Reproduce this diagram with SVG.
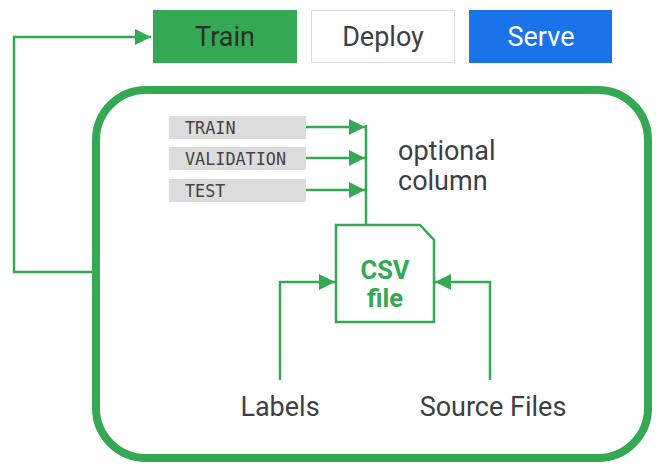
<svg xmlns="http://www.w3.org/2000/svg" width="664" height="472" viewBox="0 0 664 472">
<defs>
<style>
.lbl{font-family:"Roboto","Liberation Sans",sans-serif;font-size:27px;fill:#3c4043}
.mono{font-family:"DejaVu Sans Mono","Liberation Mono",monospace;font-size:16.8px;fill:#444}
.tag{fill:#dcdcdc}
.ln{fill:none;stroke:#34a853;stroke-width:2.5}
.csvt{font-family:"Roboto","Liberation Sans",sans-serif;font-size:25.5px;font-weight:bold;fill:#34a853}
</style>
<marker id="ah" viewBox="0 0 10 10" refX="10" refY="5" markerWidth="6.5" markerHeight="6.5" markerUnits="strokeWidth" orient="auto">
<path d="M0,0 L10,5 L0,10 z" fill="#34a853"/>
</marker>
</defs>
<rect width="664" height="472" fill="#fff"/>
<g id="train">
<rect x="153" y="10" width="144" height="53" fill="#34a853"/>
<text class="lbl" x="225" y="46" text-anchor="middle" style="fill:#2d2d2d">Train</text>
</g>
<g id="deploy">
<rect x="311.5" y="10.5" width="143" height="52" fill="#fff" stroke="#ddd"/>
<text class="lbl" x="383" y="46" text-anchor="middle">Deploy</text>
</g>
<g id="serve">
<rect x="469" y="10" width="143" height="53" fill="#1a73e8"/>
<text class="lbl" x="541" y="46" text-anchor="middle" style="fill:#fff">Serve</text>
</g>
<g id="container">
<rect x="96" y="90" width="552" height="368" rx="50" fill="none" stroke="#34a853" stroke-width="8"/>
</g>
<g id="tag-train">
<rect class="tag" x="169" y="116" width="137" height="23"/>
<text class="mono" x="185" y="133.5">TRAIN</text>
</g>
<g id="tag-validation">
<rect class="tag" x="169" y="147" width="137" height="23"/>
<text class="mono" x="185" y="164.5">VALIDATION</text>
</g>
<g id="tag-test">
<rect class="tag" x="169" y="179" width="137" height="23"/>
<text class="mono" x="185" y="196.5">TEST</text>
</g>
<g id="optional">
<text class="lbl" x="398" y="160">optional</text>
<text class="lbl" x="398" y="190">column</text>
</g>
<g id="csv">
<path d="M336,225 H420 L434,240 V322 H336 Z" fill="#fff" stroke="#34a853" stroke-width="2.5"/>
<text class="csvt" x="385" y="279" text-anchor="middle">CSV</text>
<text class="csvt" x="385" y="307" text-anchor="middle">file</text>
</g>
<g id="labels">
<text class="lbl" x="280" y="416" text-anchor="middle">Labels</text>
</g>
<g id="source">
<text class="lbl" x="493" y="416" text-anchor="middle">Source Files</text>
</g>
<g id="connectors">
<path class="ln" d="M92,272 H14 V37 H151" marker-end="url(#ah)"/>
<path class="ln" d="M306,127 H365" marker-end="url(#ah)"/>
<path class="ln" d="M306,158 H365" marker-end="url(#ah)"/>
<path class="ln" d="M306,190 H365" marker-end="url(#ah)"/>
<path class="ln" d="M366,125 V225"/>
<path class="ln" d="M280,380 V282 H335" marker-end="url(#ah)"/>
<path class="ln" d="M490,380 V282 H435" marker-end="url(#ah)"/>
</g>
</svg>
